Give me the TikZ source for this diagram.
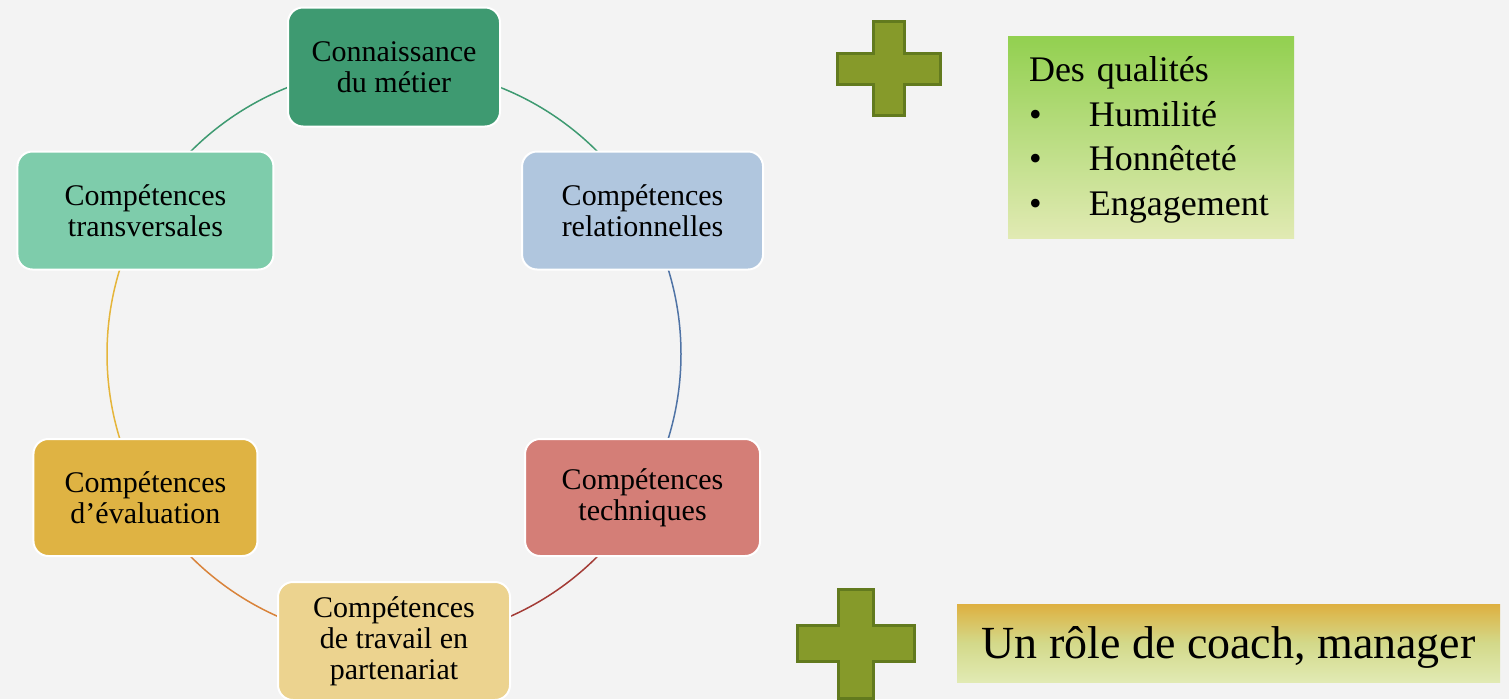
\documentclass[tikz,border=0pt]{standalone}
\usepackage{fontspec}
\setmainfont{Liberation Serif}
\definecolor{bgc}{HTML}{F3F3F3}
\definecolor{c1}{HTML}{3E9A71}
\definecolor{c2}{HTML}{B0C6DE}
\definecolor{c3}{HTML}{D47E77}
\definecolor{c4}{HTML}{ECD38F}
\definecolor{c5}{HTML}{DFB343}
\definecolor{c6}{HTML}{7ECCAB}
\definecolor{a12}{HTML}{3E9A71}
\definecolor{a23}{HTML}{4F73A5}
\definecolor{a34}{HTML}{A33B36}
\definecolor{a45}{HTML}{D9833A}
\definecolor{a56}{HTML}{E5B53A}
\definecolor{a61}{HTML}{3E9A71}
\definecolor{plusfill}{HTML}{869A2A}
\definecolor{plusline}{HTML}{627A1E}
\definecolor{qtop}{HTML}{92D050}
\definecolor{qbot}{HTML}{E1EAB3}
\definecolor{ctop}{HTML}{DEB040}
\definecolor{cmid}{HTML}{D3D98A}
\definecolor{cbot}{HTML}{E1EAB3}
\pgfdeclarelayer{back}
\pgfsetlayers{back,main}
\begin{document}
\begin{tikzpicture}[x=1pt,y=1pt,
  box/.style={rounded corners=15pt, draw=white, line width=2pt, align=center,
    inner sep=0pt, font=\fontsize{30}{31}\selectfont},
  link/.style={line width=1.5pt},
  plus/.style={fill=plusfill, draw=plusline, line width=3pt, line join=miter}]
\useasboundingbox (0,0) rectangle (1509,-699);
\coordinate (o) at (394,-354);
% cycle boxes
\node[box, fill=c1, minimum width=212pt, minimum height=119pt] (n1) at ([shift={(90:287)}]o) {Connaissance\\du métier};
\node[box, fill=c2, minimum width=241pt, minimum height=118pt] (n2) at ([shift={(30:287)}]o) {Compétences\\relationnelles};
\node[box, fill=c3, minimum width=235pt, minimum height=117pt] (n3) at ([shift={(-30:287)}]o) {Compétences\\techniques};
\node[box, fill=c4, minimum width=232pt, minimum height=118pt] (n4) at ([shift={(-90:287)}]o) {Compétences\\de travail en\\partenariat};
\node[box, fill=c5, minimum width=224pt, minimum height=117pt] (n5) at ([shift={(210:287)}]o) {Compétences\\d’évaluation};
\node[box, fill=c6, minimum width=256pt, minimum height=118pt] (n6) at ([shift={(150:287)}]o) {Compétences\\transversales};
\begin{pgfonlayer}{back}
\fill[bgc] (0,0) rectangle (1509,-699);
\draw[link, a12] (n1.center) arc[start angle=90, end angle=30, radius=287];
\draw[link, a23] (n2.center) arc[start angle=30, end angle=-30, radius=287];
\draw[link, a34] (n3.center) arc[start angle=-30, end angle=-90, radius=287];
\draw[link, a45] (n4.center) arc[start angle=-90, end angle=-150, radius=287];
\draw[link, a56] (n5.center) arc[start angle=210, end angle=150, radius=287];
\draw[link, a61] (n6.center) arc[start angle=150, end angle=90, radius=287];
\end{pgfonlayer}
% plus signs
\draw[plus] (873,-21) -- (904,-21) -- (904,-53) -- (940,-53) -- (940,-84) -- (904,-84)
  -- (904,-115) -- (873,-115) -- (873,-84) -- (837,-84) -- (837,-53) -- (873,-53) -- cycle;
\draw[plus] (838,-589) -- (873,-589) -- (873,-625) -- (914,-625) -- (914,-661) -- (873,-661)
  -- (873,-698) -- (838,-698) -- (838,-661) -- (797,-661) -- (797,-625) -- (838,-625) -- cycle;
% qualities box
\node[top color=qtop, bottom color=qbot, minimum width=286pt, minimum height=202pt,
  inner xsep=21pt, inner ysep=0pt, text width=244pt, align=left,
  font=\fontsize{36}{44.5}\selectfont] (q) at (1151,-137)
  {\rule{0pt}{31pt}Des qualités\\\makebox[60pt][l]{\textbullet}Humilité\\\makebox[60pt][l]{\textbullet}Honnêteté\\\makebox[60pt][l]{\textbullet}Engagement};
% coach box
\node[top color=ctop, bottom color=cbot, middle color=cmid, minimum width=543pt, minimum height=78pt,
  inner sep=0pt, text height=36pt, text depth=6pt, align=center,
  font=\fontsize{46}{50}\selectfont] (c) at (1228.5,-643) {Un rôle de coach, manager};
\end{tikzpicture}
\end{document}
